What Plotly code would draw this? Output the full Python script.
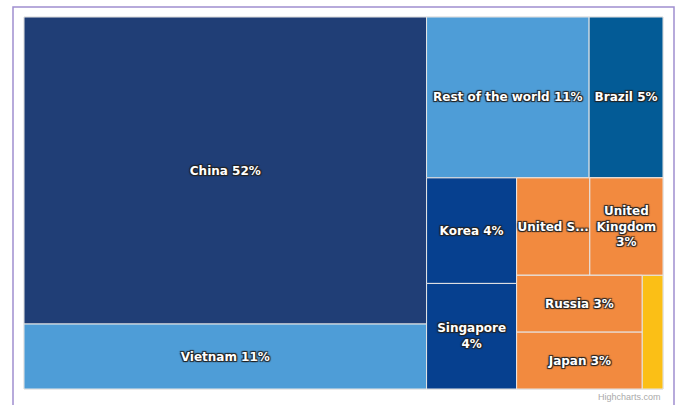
import plotly.graph_objects as go

# ---- data (leaf countries, share of total in %) ----
countries = ["China", "Vietnam", "Rest of the world", "Brazil", "Korea",
             "Singapore", "United States", "United Kingdom", "Russia",
             "Japan", "Others"]
shares = [52, 11, 11, 5, 4, 4, 3, 3, 3, 3, 1]
# labels as they appear (wrapped / truncated like the reference)
display_names = ["China", "Vietnam", "Rest of the world", "Brazil", "Korea",
                 "Singapore<br>", "United S...", "United<br>Kingdom<br>",
                 "Russia", "Japan", ""]
show_pct = [True, True, True, True, True, True, False, True, True, True, False]
country_colors = ["#203e76", "#4e9dd7", "#4e9dd7", "#035b96", "#06408f",
                  "#06408f", "#f28a3f", "#f28a3f", "#f28a3f", "#f28a3f",
                  "#fbbf16"]
# grouping of the cells (how the tiles are nested)
country_parent = ["G_left", "G_left", "G_top", "G_top", "G_ks", "G_ks",
                  "G_usuk", "G_usuk", "G_rj", "G_rj", "G_lower"]
group_ids = ["World", "G_left", "G_right", "G_top", "G_bottom", "G_ks",
             "G_rest", "G_usuk", "G_lower", "G_rj"]
group_parent = ["", "World", "World", "G_right", "G_right", "G_bottom",
                "G_bottom", "G_rest", "G_rest", "G_lower"]
group_colors = ["#ffffff", "#203e76", "#4e9dd7", "#4e9dd7", "#06408f",
                "#06408f", "#f28a3f", "#f28a3f", "#f28a3f", "#f28a3f"]

# ---- build hierarchy ----
ids, labels, parents, values, colors, texts = [], [], [], [], [], []
for gid, gp, gc in zip(group_ids, group_parent, group_colors):
    ids.append(gid); labels.append(gid); parents.append(gp)
    values.append(0); colors.append(gc); texts.append("")

for name, val, disp, sp, col, par in zip(countries, shares, display_names,
                                         show_pct, country_colors, country_parent):
    ids.append(name); labels.append(name); parents.append(par)
    values.append(val); colors.append(col)
    if disp == "":
        texts.append("")
    elif sp:
        sep = "" if disp.endswith("<br>") else " "
        texts.append(f"{disp}{sep}{val}%")
    else:
        texts.append(disp)

fig = go.Figure(go.Treemap(
    ids=ids, labels=labels, parents=parents, values=values,
    branchvalues="remainder", sort=False,
    text=texts, textinfo="text", textposition="middle center",
    textfont=dict(family="DejaVu Sans", size=12, color="white", weight="bold",
                  shadow="1px 1px 1px #222, -1px -1px 1px #222, "
                         "1px -1px 1px #222, -1px 1px 1px #222"),
    marker=dict(colors=colors, line=dict(color="#e6e6e6", width=1),
                pad=dict(t=0, l=0, r=0, b=0)),
    tiling=dict(packing="slice-dice", pad=0),
    pathbar=dict(visible=False),
    hoverinfo="label+value",
))

fig.update_layout(
    width=682, height=405,
    margin=dict(l=24, r=19, t=17, b=16),
    paper_bgcolor="white",
    uniformtext=dict(minsize=12, mode="show"),
    showlegend=False,
    shapes=[dict(type="rect", xref="paper", yref="paper",
                 x0=-11/639, x1=650/639, y0=-0.2, y1=1 + 10/372,
                 line=dict(color="#a08fd0", width=1.5), layer="above")],
    annotations=[dict(text="Highcharts.com", xref="paper", yref="paper",
                      x=1, y=-8/372, xanchor="right", yanchor="middle",
                      showarrow=False,
                      font=dict(family="Liberation Sans", size=9, color="#aaaaaa"))],
)

fig.write_html("out.html",
               config={"displayModeBar": False},
               post_script="document.body.style.margin='0';")
